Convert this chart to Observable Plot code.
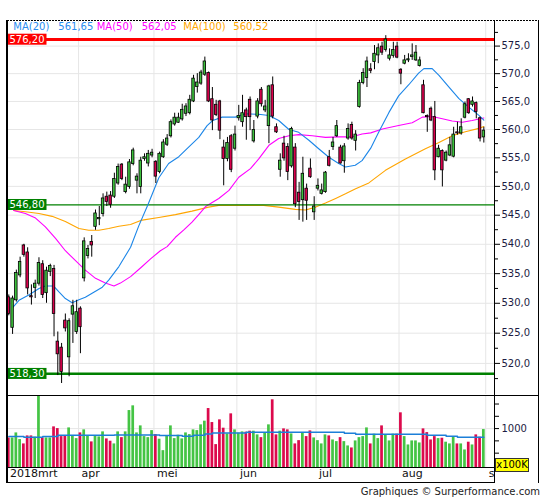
<!DOCTYPE html>
<html><head><meta charset="utf-8">
<script src="https://cdn.jsdelivr.net/npm/d3@7"></script>
<script src="https://cdn.jsdelivr.net/npm/@observablehq/plot@0.6"></script>
<style>
body{margin:0;background:#fff;}
#chart{position:relative;width:545px;height:500px;font-family:"DejaVu Sans",Verdana,sans-serif;overflow:hidden;background:#fff;}
#chart svg{position:absolute;left:0;background:transparent;}
.ln{position:absolute;background:#000;}
.lg{position:absolute;top:21px;font-size:10px;line-height:12px;white-space:nowrap;}
</style></head><body><div id="chart"></div>
<script>
// ---- data (index 0 = first trading day shown, early March 2018) ----
const opens = [531.0,525.9,530.5,534.7,539.8,538.6,531.2,532.6,533.3,536.6,
531.7,535.3,535.8,523.6,522.6,527.1,521.0,528.1,525.2,529.1,
534.2,538.0,540.4,543.0,544.3,545.2,548.2,548.4,548.2,550.5,
553.8,549.0,549.9,553.9,551.0,549.9,554.8,554.0,555.4,554.3,
552.5,555.1,557.3,558.8,560.9,561.2,561.8,562.8,562.9,565.0,
567.6,568.2,569.8,570.1,565.4,564.4,565.0,556.8,554.8,558.8,
556.6,562.0,561.3,563.4,565.3,557.9,562.3,567.1,563.4,560.6,
567.9,560.4,552.9,557.5,556.9,553.5,556.8,548.9,547.6,549.6,
553.1,545.5,549.6,548.7,549.0,555.1,556.9,558.8,556.8,554.4,
558.4,560.8,558.0,564.0,568.3,569.2,570.8,572.1,573.3,574.9,
574.3,572.7,573.2,574.9,570.7,571.8,572.4,573.0,572.4,571.4,
567.9,562.4,563.7,562.2,555.1,556.2,554.5,555.4,555.2,559.5,
559.3,562.1,565.4,564.4,564.7,562.0,558.6];
const highs = [531.4,531.2,535.6,537.8,540.0,539.4,533.1,533.9,537.7,537.2,
536.1,536.6,536.4,525.2,523.3,528.2,527.4,530.5,530.5,529.4,
541.1,539.8,541.5,545.9,546.5,548.7,549.0,549.1,552.3,553.9,
554.0,551.6,554.7,556.7,552.2,555.1,555.7,556.3,556.5,554.5,
556.0,558.2,559.1,561.7,562.9,562.9,564.5,564.6,566.1,569.7,
570.0,570.6,573.0,570.3,567.5,565.2,565.2,558.1,558.6,559.1,
560.6,564.3,566.1,563.8,565.8,561.6,565.5,567.5,565.2,567.9,
569.4,561.0,555.7,558.8,557.5,560.4,557.5,550.7,555.1,550.4,
554.8,548.2,551.3,550.4,552.6,556.3,558.6,561.6,557.2,557.5,
561.0,561.3,559.8,568.8,570.9,573.0,571.8,575.1,575.4,575.7,
576.9,574.5,575.7,575.7,570.9,573.3,573.6,575.4,575.1,573.0,
568.8,562.6,564.0,565.0,557.2,556.4,556.2,558.6,560.4,561.3,
561.9,564.9,565.5,565.8,564.9,562.2,560.4];
const lows = [527.9,524.8,530.2,534.3,537.8,531.4,529.7,530.8,532.9,530.8,
530.0,534.5,524.4,518.0,516.7,525.2,517.8,523.3,524.8,521.6,
533.6,537.5,537.8,542.4,543.2,544.7,546.5,546.2,547.9,550.2,
551.0,548.7,549.5,553.6,548.7,548.7,554.4,553.4,555.0,550.5,
552.2,554.9,557.0,558.5,560.6,561.1,561.5,562.3,562.6,564.8,
566.5,567.9,569.5,564.8,559.8,562.3,558.2,550.1,554.3,552.4,
556.2,561.5,560.4,558.1,559.8,557.6,561.9,564.0,563.0,557.5,
561.9,559.3,551.6,554.4,551.0,553.2,546.3,544.1,543.8,544.1,
551.4,544.1,549.2,548.5,548.8,553.4,556.3,558.6,553.9,552.3,
558.1,558.1,556.2,563.8,568.0,567.5,570.0,570.7,571.8,573.3,
573.9,572.3,572.8,572.7,568.0,571.6,572.0,572.4,572.2,571.2,
562.8,559.5,561.4,551.0,555.0,549.9,554.3,555.2,555.0,559.0,
559.0,561.9,562.7,564.0,561.9,557.8,557.6];
const closes = [528.2,530.8,535.1,537.0,538.2,532.5,531.0,533.3,536.8,531.4,
535.5,536.3,528.2,521.5,518.6,525.8,527.0,529.5,528.5,526.0,
540.5,539.2,539.8,545.3,544.5,547.9,547.3,546.8,551.3,553.4,
551.3,550.3,554.2,556.3,551.7,554.5,555.1,555.7,555.9,551.7,
555.7,557.7,558.4,561.3,562.1,562.1,563.5,564.1,565.3,569.1,
568.4,570.2,572.2,565.0,561.6,562.6,559.8,554.8,557.6,552.9,
559.1,562.4,562.9,562.2,562.2,559.9,565.0,564.5,564.1,567.7,
562.3,559.5,554.5,554.9,552.5,560.1,546.9,547.3,552.2,547.5,
551.6,546.5,550.1,549.3,552.4,553.6,557.7,560.6,554.0,557.0,
560.1,558.4,559.1,568.3,570.1,572.2,570.5,573.6,574.6,573.8,
576.2,573.3,574.3,572.9,570.0,572.4,572.6,573.3,573.8,572.4,
562.9,562.2,561.6,552.8,556.6,552.8,555.9,557.2,559.1,559.3,
560.4,564.5,562.9,565.0,563.1,558.4,559.8];
// volume in units of 100K
const volumes = [810,810,912,776,688,851,851,825,1653,810,
810,810,1035,1000,837,857,1014,845,796,912,
974,857,729,857,831,933,790,743,688,933,
816,933,1367,1463,912,1055,837,816,959,878,
784,551,857,1055,796,865,790,912,878,974,
959,1076,1151,1408,1123,674,1178,1008,892,1300,
974,906,933,927,947,947,872,816,906,1076,
1586,872,947,994,974,892,688,755,912,837,
953,810,755,688,872,851,769,735,816,735,
647,606,749,816,837,1014,688,886,796,1055,
872,749,886,886,1321,837,667,749,749,708,
994,918,769,837,796,804,723,688,837,688,
688,565,723,667,872,825,980];
// moving averages (index, value)
const ma20X = [0.9,2.7,5.3,8,9.7,11.9,13.3,15,16.8,18.6,20.3,22.1,24.8,26.5,29.2,32.3,34.5,36.9,39.8,42.4,45.1,47.7,50.4,52.6,54.1,56.6,60.1,62.8,66.3,69,71.6,74.3,76.9,79.6,82.2,84.9,87.5,89.3,91.9,93.7,96,98.1,100.8,103.4,106.1,108.7,110.1,112.3,114.1,116.7,119.4,122,124.7,126];
const ma20Y = [529.2,530.5,531.4,532.5,532.9,532.9,531.9,530.8,530.1,530.6,531.0,531.7,532.7,533.9,536.2,539.5,543.2,546.8,551.5,554.0,555.2,556.9,558.6,560.7,561.6,562.2,562.2,562.8,562.7,562.5,561.6,560.0,559.5,558.1,556.6,555.1,554.0,553.4,553.7,554.5,556.7,559.5,563.0,566.0,568.0,570.1,570.9,570.9,569.7,567.6,565.5,564.0,562.5,561.65];
const ma50X = [1.3,4.4,7.1,9.7,12.4,15,17.7,20.3,23,25.6,27.9,29.6,32.3,35,37.6,40.2,42,44.2,46.5,48.6,50.5,52.2,55.7,58.4,61,64.1,66.3,69,71.6,74.3,76.9,80.5,84,87.5,91.1,93.7,96,99.1,103.4,107,109.7,112.3,115,117.6,120.3,122.9,126];
const ma50Y = [545.8,545.3,544.5,543.0,541.0,538.9,537.2,535.6,534.2,533.4,532.9,533.4,534.5,536.0,537.5,538.9,539.6,541.2,542.5,543.8,545.2,546.5,547.9,549.3,551.6,553.1,554.8,557.2,558.4,558.9,559.1,558.9,558.6,558.7,558.7,559.2,559.4,560.1,560.7,561.2,562.2,562.3,561.9,561.5,561.3,561.6,562.05];
const ma100X = [1.3,4.4,8,11.5,15,18.6,21.2,23.9,26.5,29.2,32.3,35,39.8,44.2,48.6,53,55.7,60.1,67.6,71.6,76,78.7,81.4,84,86.7,89.3,92,95.5,99.9,105.2,110.5,114.1,117.6,121.1,124.7,126];
const ma100Y = [545.8,545.6,545.3,544.8,543.9,542.7,542.4,542.4,542.7,543.1,543.4,544.1,544.6,545.1,545.7,546.4,546.7,546.7,546.7,546.4,546.0,545.9,546.4,547.1,547.9,548.7,549.6,550.6,552.8,554.8,556.6,557.7,558.9,559.6,560.2,560.52];
const volMAX = [0,4,9,13,28,40,46,49,52,54,63,89,92,111,116,119,126];
const volMAY = [837,825,837,865,872,857,845,865,892,912,927,906,886,865,845,825,825];
const levelValues = [576.20, 546.80, 518.30];
const levelColors = ["#ff0000", "#008000", "#008000"];
const levelWidths = [3, 1.3, 2.3];
const monthLabels = ["2018mrt","apr","mei","jun","jul","aug","s"];
const monthStart = [0,19,39,61,82,104,127];
const priceTicks = [520,525,530,535,540,545,550,555,560,565,570,575];
const priceMinor = [517.5,522.5,527.5,532.5,537.5,542.5,547.5,552.5,557.5,562.5,567.5,572.5,577.5];
const volTicks = [500,750,1000,1250,1500];
const legendItems = [["MA(20)","561,65","#2a8cf0"],["MA(50)","562,05","#ff00ff"],["MA(100)","560,52","#ffa500"]];

// ---- build ----
const GREEN = "#3cc03c", RED = "#d9004c", GRID = "#e6e6e6";
const candles = d3.range(opens.length).map(i => ({i, o: opens[i], h: highs[i], l: lows[i], c: closes[i], v: volumes[i], up: closes[i] >= opens[i]}));
const ups = candles.filter(d => d.up), downs = candles.filter(d => !d.up);
const ma20 = ma20X.map((x, k) => ({x, y: ma20Y[k]}));
const ma50 = ma50X.map((x, k) => ({x, y: ma50Y[k]}));
const ma100 = ma100X.map((x, k) => ({x, y: ma100Y[k]}));
const volMA = volMAX.map((x, k) => ({x, y: volMAY[k]}));
const levels = levelValues.map((v, k) => ({v, color: levelColors[k], w: levelWidths[k]}));
const gridX = monthStart.slice(1).map(d => d - 0.5);
const xDomain = [-0.345, 128.83];
const fmt1 = d => d.toFixed(1).replace(".", ",");
const fmt2 = d => d.toFixed(2).replace(".", ",");
const hw = 0.33;

const chart = document.getElementById("chart");

const price = Plot.plot({
  width: 545, height: 395,
  marginLeft: 7, marginRight: 51, marginTop: 20, marginBottom: 1,
  x: {domain: xDomain, axis: null},
  y: {type: "log", domain: [514.9, 579.68], axis: null, label: null},
  style: {fontFamily: "DejaVu Sans, Verdana, sans-serif", fontSize: "10px", background: "transparent"},
  marks: [
    Plot.gridY(priceTicks, {stroke: GRID, strokeOpacity: 1}),
    Plot.ruleX(gridX, {stroke: GRID, strokeOpacity: 1}),
    Plot.axisY(priceMinor, {anchor: "right", tickSize: 3, tickFormat: () => "", label: null, stroke: "#000"}),
    Plot.axisY(priceTicks, {anchor: "right", tickSize: 5, tickPadding: 2, tickFormat: fmt1, label: null, stroke: "#000", fill: "#1c1c44", fontSize: 10}),
    Plot.line(ma100, {x: "x", y: "y", stroke: "#ffa500", strokeWidth: 1.1}),
    Plot.line(ma50, {x: "x", y: "y", stroke: "#ff00ff", strokeWidth: 1.1}),
    Plot.ruleY(levels, {y: "v", stroke: "color", strokeWidth: "w"}),
    Plot.line(ma20, {x: "x", y: "y", stroke: "#1c86e8", strokeWidth: 1.1}),
    Plot.ruleX(candles, {x: "i", y1: "l", y2: "h", stroke: "#000", strokeWidth: 1}),
    Plot.rect(ups, {x1: d => d.i - hw, x2: d => d.i + hw, y1: "o", y2: "c", fill: GREEN, stroke: "#000", strokeWidth: 0.8}),
    Plot.rect(downs, {x1: d => d.i - hw, x2: d => d.i + hw, y1: "o", y2: "c", fill: RED, stroke: "#000", strokeWidth: 0.8}),
    Plot.text(levels, {y: "v", text: d => fmt2(d.v), frameAnchor: "left", textAnchor: "start", dx: 2, fill: "#fff", fontSize: 10, className: "lvl", ariaLabel: "lvl"})
  ]
});
price.style.top = "0px";
chart.appendChild(price);

const vol = Plot.plot({
  width: 545, height: 92,
  marginLeft: 7, marginRight: 51, marginTop: 2, marginBottom: 18.5,
  x: {domain: xDomain, axis: null},
  y: {domain: [198, 1653], axis: null, label: null},
  style: {fontFamily: "DejaVu Sans, Verdana, sans-serif", fontSize: "10px", background: "transparent", overflow: "visible"},
  marks: [
    Plot.gridY([1000], {stroke: GRID, strokeOpacity: 1}),
    Plot.ruleX(gridX, {stroke: GRID, strokeOpacity: 1}),
    Plot.axisY(volTicks, {anchor: "right", tickSize: 4, tickPadding: 3, tickFormat: d => d === 1000 ? "1000" : "", label: null, stroke: "#000", fill: "#1c1c44", fontSize: 10}),
    Plot.rect(ups, {x1: d => d.i - 0.36, x2: d => d.i + 0.36, y1: 198, y2: "v", fill: "#44c444"}),
    Plot.rect(downs, {x1: d => d.i - 0.36, x2: d => d.i + 0.36, y1: 198, y2: "v", fill: "#dc0a4c"}),
    Plot.line(volMA, {x: "x", y: "y", curve: "step-after", stroke: "#1c7fd8", strokeWidth: 1.5}),
    Plot.text(monthStart, {x: d => d - 0.5, text: (d, i) => monthLabels[i], frameAnchor: "bottom", dy: 8.5, dx: 3, textAnchor: "start", fontSize: 11, fill: "#111"})
  ]
});
vol.style.top = "394px";
chart.appendChild(vol);

// label boxes behind the level values
const svgNS = "http://www.w3.org/2000/svg";
const lvlTexts = Array.from(new Set([...price.querySelectorAll('g.lvl text, g[aria-label="lvl"] text')]));
lvlTexts.forEach((t, k) => {
  const b = t.getBBox();
  const r = document.createElementNS(svgNS, "rect");
  r.setAttribute("x", b.x - 1.5); r.setAttribute("y", b.y);
  r.setAttribute("width", b.width + 3.5); r.setAttribute("height", b.height);
  r.setAttribute("fill", levels[k].color);
  const tr = t.getAttribute("transform"); if (tr) r.setAttribute("transform", tr);
  t.parentNode.insertBefore(r, t);
});

// frame lines
function line(l, t, w, h, extra) {
  const d = document.createElement("div");
  d.className = "ln";
  Object.assign(d.style, {left: l + "px", top: t + "px", width: w + "px", height: h + "px"}, extra || {});
  chart.appendChild(d);
}
line(7, 20, 532, 1, {background: "repeating-linear-gradient(90deg,#000 0 2px,transparent 2px 3px)"});
line(6, 20, 1.5, 463);
line(538, 20, 1, 463);
line(494, 20, 1, 463);
line(6, 394.5, 533, 1);
line(6, 467, 489, 1);
line(6, 482, 489, 1);

// legend
const lgX = [[13.3, 58.3], [96.7, 141.7], [183.3, 233.3]];
legendItems.forEach(([a, b, c], k) => {
  [a, b].forEach((s, j) => {
    const sp = document.createElement("span");
    sp.className = "lg"; sp.textContent = s; sp.style.color = c; sp.style.left = lgX[k][j] + "px";
    chart.appendChild(sp);
  });
});

// x100K unit box
const unit = document.createElement("div");
unit.textContent = "x100K";
Object.assign(unit.style, {position: "absolute", left: "495px", top: "458px", width: "32px", height: "12px", background: "#ffff00", border: "1px solid #333", fontSize: "10px", lineHeight: "12px", textAlign: "center", color: "#000", boxSizing: "content-box"});
chart.appendChild(unit);

// credits
const cr = document.createElement("div");
cr.textContent = "Graphiques © Surperformance.com";
Object.assign(cr.style, {position: "absolute", right: "5px", top: "485px", fontSize: "10px", lineHeight: "13px", color: "#222", whiteSpace: "nowrap"});
chart.appendChild(cr);
</script>
</body></html>
